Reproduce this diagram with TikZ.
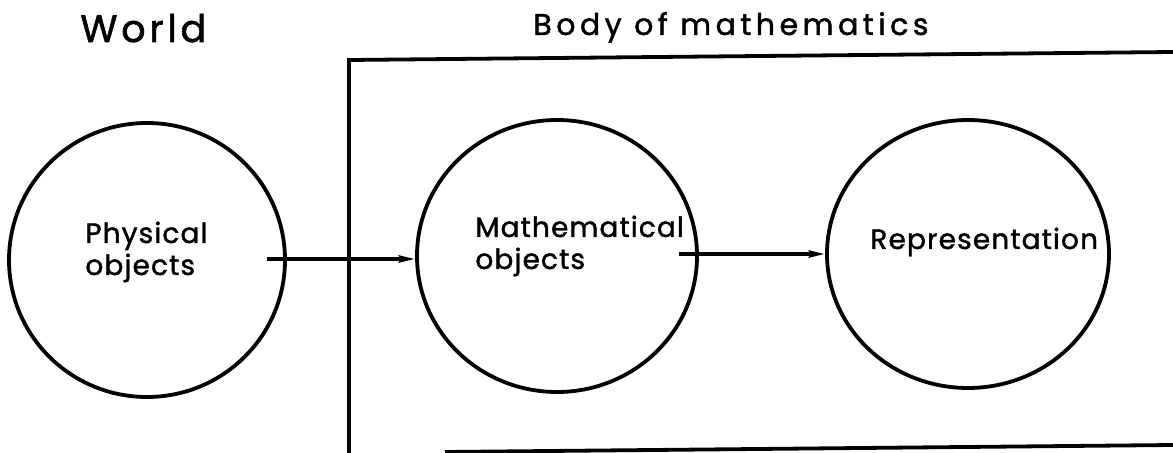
\documentclass[tikz,border=0pt]{standalone}
\usepackage{fontspec}
\setmainfont{Poppins}
\newfontfamily\lblfont[LetterSpace=4,FakeBold=1.5]{Poppins}
\newfontfamily\headfont[LetterSpace=10,FakeBold=1.5]{Poppins}
\newfontfamily\bodyfont[LetterSpace=15,FakeBold=1.5]{Poppins}
\usetikzlibrary{shapes.geometric,arrows.meta}
\tikzset{
  blob/.style={draw, ellipse, line width=1.9pt, inner sep=0pt},
  lbl/.style={anchor=base west, inner sep=0pt, font=\lblfont\fontsize{14pt}{16pt}\selectfont, align=left},
  head/.style={anchor=base west, inner sep=0pt},
  conn/.style={line width=1.9pt, -{Stealth[length=8pt,width=3.5pt,inset=1pt]}},
  frame/.style={line width=1.9pt}
}
\begin{document}
\begin{tikzpicture}[x=0.5pt,y=-0.5pt]
\useasboundingbox (0,0) rectangle (1173,453);
% circles
\node[blob, minimum width=276pt*0.5, minimum height=274pt*0.5] (c1) at (147,260) {};
\node[blob, minimum width=280pt*0.5, minimum height=272pt*0.5] (c2) at (557,256) {};
\node[blob, minimum width=282pt*0.5, minimum height=268pt*0.5] (c3) at (968,254) {};
% frame
\coordinate (fbl) at (349,453);
\coordinate (ftl) at (349,60);
\coordinate (ftr) at (1173,52);
\coordinate (fb1) at (445,452);
\coordinate (fb2) at (1173,445);
\draw[frame] (fbl) -- (ftl) -- (ftr);
\draw[frame] (fb1) -- (fb2);
% titles
\node[head, font=\headfont\fontsize{19pt}{22pt}\selectfont] (world) at (80,42) {World};
\node[head, font=\bodyfont\fontsize{15pt}{17pt}\selectfont] (body) at (533,35) {Body of mathematics};
% labels
\node[lbl] (t1) at (85,275) {Physical\\objects};
\node[lbl] (t2) at (475,269) {Mathematical\\objects};
\node[lbl] (t3) at (870,249) {Representation};
% connectors
\coordinate (a1) at (267,259);
\coordinate (a2) at (679,254);
\draw[conn] (a1) -- (a1 -| c2.west);
\draw[conn] (a2) -- (a2 -| c3.west);
\end{tikzpicture}
\end{document}
